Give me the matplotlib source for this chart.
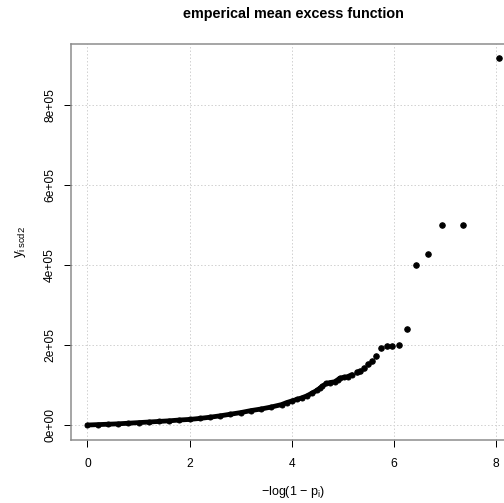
import matplotlib
matplotlib.use("Agg")
import matplotlib.pyplot as plt
import numpy as np

plt.rcParams['font.family'] = ['Liberation Sans', 'DejaVu Sans']
plt.rcParams['mathtext.fontset'] = 'custom'
plt.rcParams['mathtext.rm'] = 'Liberation Sans'
plt.rcParams['mathtext.it'] = 'Liberation Sans'

# empirical mean excess: x = -log(1 - p_i), y in units of 1e5
dense_x = [0.0, 0.2, 0.4, 0.6, 0.8, 1.0, 1.2, 1.4, 1.6, 1.8, 2.0, 2.2, 2.4,
           2.6, 2.8, 3.0, 3.2, 3.4, 3.6, 3.8, 3.9, 4.0, 4.1, 4.2, 4.3, 4.4,
           4.5, 4.55, 4.6, 4.68, 4.75, 4.84, 4.9, 4.94, 5.02, 5.10, 5.18]
dense_y = [0.00, 0.01, 0.02, 0.03, 0.045, 0.06, 0.075, 0.09, 0.105, 0.125,
           0.14, 0.165, 0.195, 0.23, 0.27, 0.31, 0.36, 0.40, 0.45, 0.51, 0.56,
           0.60, 0.64, 0.68, 0.73, 0.80, 0.87, 0.92, 0.97, 1.04, 1.06, 1.08,
           1.13, 1.17, 1.19, 1.21, 1.26]
tail_x = [5.27, 5.34, 5.41, 5.49, 5.57, 5.66, 5.75, 5.86, 5.97, 6.10, 6.26,
          6.44, 6.66, 6.95, 7.35, 8.05]
tail_y = [1.32, 1.36, 1.42, 1.52, 1.61, 1.73, 1.92, 1.98, 1.98, 2.01, 2.39,
          3.99, 4.27, 4.99, 4.99, 9.16]

x_ticks = [0, 2, 4, 6, 8]
y_ticks = [0, 2e5, 4e5, 6e5, 8e5]
y_tick_labels = ["0e+00", "2e+05", "4e+05", "6e+05", "8e+05"]

scale = 1e5
dx = np.array(dense_x)
dy = np.array(dense_y) * scale
tx = np.array(tail_x)
ty = np.array(tail_y) * scale

W, H = 504, 503
fig = plt.figure(figsize=(W / 72, H / 72), dpi=72)
left, right = 71 / W, 515 / W
bottom, top = 1 - 439.7 / H, 1 - 43.5 / H
ax = fig.add_axes([left, bottom, right - left, top - bottom])

all_x = np.concatenate([dx, tx])
all_y = np.concatenate([dy, ty])
rx = all_x.max() - all_x.min()
ry = all_y.max() - all_y.min()
ax.set_xlim(all_x.min() - 0.04 * rx, all_x.max() + 0.04 * rx)
ax.set_ylim(all_y.min() - 0.04 * ry, all_y.max() + 0.04 * ry)

# dotted grid at tick positions
for xv in x_ticks:
    ax.axvline(xv, color='#D3D3D3', lw=1, ls=(0, (1.5, 2)), zorder=0)
for yv in y_ticks:
    ax.axhline(yv, color='#D3D3D3', lw=1, ls=(0, (1.5, 2)), zorder=0)

ax.plot(dx, dy, color='black', lw=4.8, solid_capstyle='round',
        solid_joinstyle='round', zorder=2)
ax.plot(dx, dy, 'o', color='black', ms=5, zorder=3)
ax.plot(tx, ty, 'o', color='black', ms=5.5, zorder=3)

ax.set_xticks(x_ticks)
ax.set_xticklabels([str(v) for v in x_ticks])
ax.set_yticks(y_ticks)
ax.set_yticklabels(y_tick_labels, rotation=90, va='center')
ax.tick_params(axis='both', length=7, width=1, color='black',
               labelsize=12, direction='out')
ax.tick_params(axis='x', pad=11)
ax.tick_params(axis='y', pad=8)

for s in ax.spines.values():
    s.set_color('#8a8a8a')
    s.set_linewidth(1.5)

fig.text((left + right) / 2, 1 - 14 / H, "emperical mean excess function",
         ha='center', va='center', fontsize=14.4, fontweight='bold')
fig.text((left + right) / 2, 1 - 492 / H,
         "\u2212log(1 \u2212 p$_\\mathrm{i}$)",
         ha='center', va='center', fontsize=12.5)
fig.text(20 / W, 1 - 242 / H, r"$\mathrm{y}_{\mathrm{i}\,\mathrm{scd2}}$",
         ha='center', va='center', fontsize=13.5, rotation=90)

fig.savefig("out.png", dpi=72)
